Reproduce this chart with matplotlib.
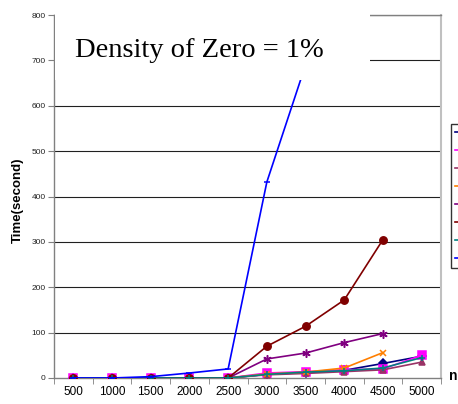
import numpy as np
import matplotlib.pyplot as plt
from matplotlib.patches import Rectangle

# problem sizes on the category axis
sizes = ['500', '1000', '1500', '2000', '2500', '3000', '3500', '4000', '4500', '5000']

# run times in seconds (None = not measured)
t_navy    = [0, 0, 0, 0, 0, 8, 12, 17, 32, 48]
t_magenta = [0, 0, 0, 0, 0, 11, 14, 18, 20, 50]
t_mauve   = [0, 0, 0, 0, 0, 7, 10, 14, 18, 35]
t_orange  = [0, 0, 0, 0, 0, 9, 13, 22, 56, None]
t_purple  = [0, 0, 0, 0, 0, 42, 55, 78, 98, None]
t_darkred = [0, 0, 0, 0, 0, 70, 114, 172, 305, None]
t_teal    = [0, 0, 0, 0, 0, 8, 13, 16, 22, 45]
t_blue    = [0, 0, 3, 11, 20, 432, 690, None, None, None]

series = [
    (t_navy,    '#000080', 'D',         3.8),
    (t_magenta, '#ff00ff', 's',         5.2),
    (t_mauve,   '#993366', '^',         5.0),
    (t_orange,  '#ff7f00', 'x',         5.0),
    (t_purple,  '#800080', (6, 2, 0),   6.0),
    (t_darkred, '#800000', 'o',         5.3),
    (t_teal,    '#008080', '+',         5.0),
    (t_blue,    '#0000ff', '_',         4.5),
]

fig = plt.figure(figsize=(4.58, 4.04), dpi=100)
W, H = 458, 404
ax = fig.add_axes([54 / W, 1 - 378 / H, (441 - 54) / W, (378 - 15) / H])

x = np.arange(len(sizes))
handles = []
for k, (vals, col, mk, ms) in enumerate(series):
    y = np.array([np.nan if v is None else v for v in vals], dtype=float)
    ln, = ax.plot(x, y, color=col, lw=1.2, marker=mk, ms=ms,
                  mfc=col, mec=col, mew=1.1, zorder=3 + k)
    handles.append(ln)

ax.set_xlim(-0.5, len(sizes) - 0.5)
ax.set_ylim(0, 800)
ax.set_yticks(np.arange(0, 801, 100))
ax.set_yticklabels([str(v) for v in range(0, 801, 100)], fontsize=6,
                   family='Liberation Sans', color='#222222')
ax.set_xticks(x)
ax.set_xticklabels(sizes, fontsize=8.5, family='Liberation Sans')
ax.set_xticks(np.arange(-0.5, len(sizes), 1), minor=True)
ax.tick_params(axis='x', which='major', length=0, pad=6)
ax.tick_params(axis='x', which='minor', length=4, color='#808080', direction='out')
ax.tick_params(axis='y', length=4, color='#808080', direction='out', pad=2)

for yv in range(100, 801, 100):
    ax.axhline(yv, color='#202020', lw=0.8, zorder=1)

for side in ['left', 'bottom', 'top']:
    ax.spines[side].set_color('#808080')
    ax.spines[side].set_linewidth(1.0)
ax.spines['right'].set_color('#c0c0c0')
ax.spines['right'].set_linewidth(1.5)

# white title box over the upper part of the plot
fig.patches.append(Rectangle((55 / W, 1 - 80 / H), (370 - 55) / W, 80 / H,
                             transform=fig.transFigure, facecolor='white',
                             edgecolor='none', zorder=20))
fig.text(75 / W, 1 - 57 / H, 'Density of Zero = 1%', fontsize=20.5,
         family='Liberation Serif', ha='left', va='baseline', zorder=21)

fig.text(18 / W, 1 - 200 / H, 'Time(second)', rotation=90, fontsize=9.5,
         fontweight='bold', family='Liberation Sans', ha='center', va='center')
fig.text(453 / W, 1 - 376 / H, 'n', fontsize=10, fontweight='bold',
         family='Liberation Sans', ha='center', va='center')

leg = ax.legend(handles, [''] * len(handles), loc='upper left',
                bbox_to_anchor=(451 / W, 1 - 124 / H), bbox_transform=fig.transFigure,
                borderaxespad=0, frameon=True, fancybox=False, handlelength=2.0,
                markerscale=0.4, labelspacing=0.72, borderpad=0.35, fontsize=8,
                handletextpad=0.5)
leg.get_frame().set_edgecolor('black')
leg.get_frame().set_linewidth(1.0)

fig.savefig('out.png', dpi=100)
